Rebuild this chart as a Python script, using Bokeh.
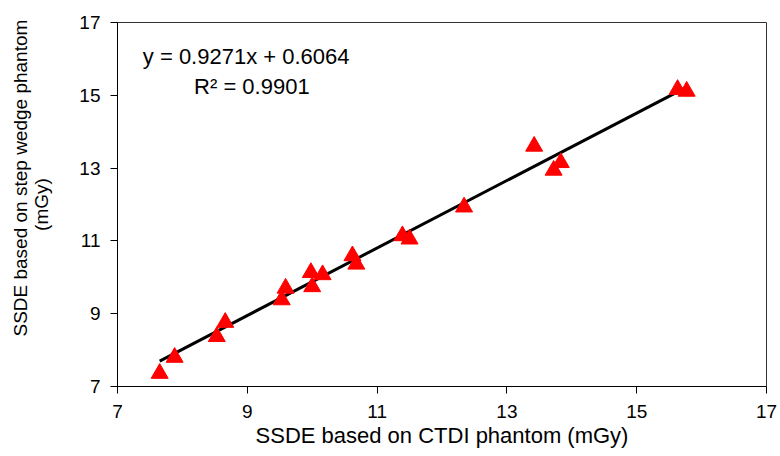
import numpy as np
from bokeh.plotting import figure
from bokeh.models import Label, FixedTicker, ColumnDataSource
from bokeh.embed import file_html
from bokeh.resources import INLINE

# Data
ssde_ctdi = [7.65, 7.88, 8.53, 8.66, 9.53, 9.59, 9.98, 10.00, 10.16, 10.62,
             10.68, 11.39, 11.50, 12.34, 13.42, 13.72, 13.83, 15.63, 15.77]
ssde_step = [7.36, 7.80, 8.37, 8.76, 9.38, 9.70, 10.13, 9.74, 10.07, 10.59,
             10.36, 11.14, 11.05, 11.93, 13.60, 12.94, 13.15, 15.16, 15.11]
slope = 0.9271
intercept = 0.6064
r_squared = 0.9901
tick_values = [7, 9, 11, 13, 15, 17]

FONT = "Liberation Sans"

p = figure(width=780, height=456, output_backend="svg", toolbar_location=None,
           x_range=(7, 17), y_range=(7, 17),
           min_border_left=117, min_border_right=14, min_border_top=22,
           min_border_bottom=70)

p.xgrid.visible = False
p.ygrid.visible = False
p.outline_line_color = "#333333"
p.outline_line_width = 1
p.background_fill_color = "white"
p.border_fill_color = "white"

for ax in (p.xaxis[0], p.yaxis[0]):
    ax.ticker = FixedTicker(ticks=tick_values)
    ax.minor_tick_line_color = None
    ax.major_tick_in = 0
    ax.major_tick_out = 7
    ax.axis_line_color = "black"
    ax.major_tick_line_color = "black"
    ax.major_label_text_font = FONT
    ax.major_label_text_font_size = "19px"
    ax.major_label_text_color = "black"
    ax.axis_label_text_font = FONT
    ax.axis_label_text_font_style = "normal"
    ax.axis_label_text_color = "black"

p.xaxis[0].axis_label = "SSDE based on CTDI phantom (mGy)"
p.xaxis[0].axis_label_text_font_size = "22px"
p.yaxis[0].axis_label = "\u00a0" * 10 + "SSDE based on step wedge phantom\n(mGy)"
p.yaxis[0].axis_label_text_font_size = "19px"
p.yaxis[0].axis_label_text_line_height = 1.0
p.xaxis[0].major_label_standoff = 11
p.yaxis[0].major_label_standoff = 10
p.xaxis[0].axis_label_standoff = 2
p.yaxis[0].axis_label_standoff = 24

# Trendline from the fitted equation over the data range
x_line = np.array([min(ssde_ctdi), max(ssde_ctdi)])
y_line = slope * x_line + intercept
p.line(x_line, y_line, line_color="black", line_width=3)

src = ColumnDataSource(dict(x=ssde_ctdi, y=ssde_step))
p.scatter("x", "y", source=src, marker="triangle", size=17,
          fill_color="#ff0000", line_color="#ff0000")

eq = Label(x=7.39, y=16.07, text=f"y = {slope}x + {intercept}",
           text_font=FONT, text_font_size="22px", text_baseline="middle",
           text_align="left", text_color="black")
r2 = Label(x=8.18, y=15.25, text=f"R² = {r_squared}",
           text_font=FONT, text_font_size="22px", text_baseline="middle",
           text_align="left", text_color="black")
p.add_layout(eq)
p.add_layout(r2)

open("out.html", "w").write(file_html(p, INLINE))
